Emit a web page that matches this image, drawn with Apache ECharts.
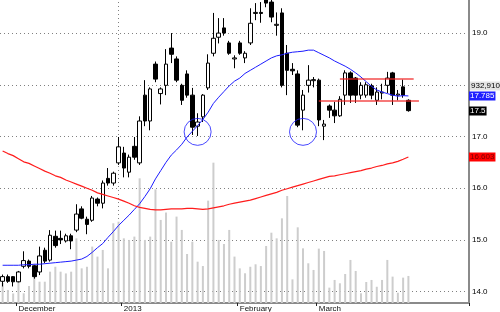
<!DOCTYPE html>
<html><head><meta charset="utf-8">
<script src="https://cdn.jsdelivr.net/npm/echarts@6/dist/echarts.min.js"></script>
<style>html,body{margin:0;padding:0;background:#fff}#c{width:500px;height:312px}</style>
</head><body><div id="c"></div>
<script>
// ---- data ----
const opens = [14.20,14.29,14.29,14.19,14.49,14.59,14.50,14.38,14.80,14.61,
  15.07,15.03,14.98,15.08,15.19,15.60,15.40,15.38,15.79,15.71,
  16.19,16.10,16.49,16.68,16.31,16.81,16.49,17.80,17.30,18.40,
  17.83,17.99,18.71,18.50,17.99,18.21,17.80,17.20,17.38,17.94,
  18.61,18.92,19.10,18.81,18.50,18.81,18.52,18.81,19.38,19.40,
  19.64,19.60,19.15,19.39,18.61,18.30,18.21,17.51,17.99,18.08,
  18.09,17.20,17.59,17.51,17.40,17.80,18.23,18.13,17.80,17.80,
  17.98,17.70,17.84,17.99,18.23,17.80,17.96,17.70];
const closes = [14.29,14.20,14.19,14.38,14.60,14.49,14.29,14.69,14.59,15.09,
  14.89,15.00,15.08,14.98,15.50,15.42,15.30,15.81,15.71,16.10,
  16.10,16.29,16.80,16.39,16.60,16.60,17.30,17.30,17.92,18.11,
  17.92,18.40,18.59,18.09,17.70,17.80,17.18,17.28,17.80,18.42,
  18.90,19.00,19.00,18.61,18.52,18.61,18.61,19.19,19.40,19.38,
  19.58,19.31,19.17,17.99,18.28,18.27,17.22,17.80,18.09,18.10,
  17.32,17.24,17.51,17.40,17.72,18.23,17.80,17.80,17.99,18.00,
  17.80,17.86,17.86,18.13,17.80,17.82,17.80,17.50];
const lows = [14.10,14.17,14.10,14.18,14.45,14.45,14.25,14.32,14.55,14.58,
  14.85,14.92,14.95,14.82,15.15,15.40,15.11,15.35,15.65,15.61,
  16.05,16.05,16.45,16.21,16.21,16.55,16.45,17.20,17.12,18.05,
  17.62,17.80,18.42,18.05,17.61,17.75,17.03,17.01,17.28,17.90,
  18.55,18.80,18.95,18.58,18.32,18.58,18.42,18.77,19.25,19.20,
  19.50,19.21,18.95,17.95,17.80,18.19,17.18,17.12,17.85,17.95,
  17.20,16.93,17.36,17.26,17.38,17.61,17.65,17.65,17.72,17.75,
  17.72,17.61,17.72,17.84,17.61,17.70,17.75,17.48];
const highs = [14.33,14.33,14.30,14.40,14.78,14.62,14.52,14.87,14.85,15.19,
  15.18,15.18,15.12,15.12,15.69,15.65,15.45,15.85,15.82,16.15,
  16.39,16.32,16.99,16.80,16.65,16.99,17.39,18.09,17.95,18.45,
  17.95,18.69,19.00,18.55,18.02,18.28,17.94,17.45,17.82,18.59,
  19.39,19.29,19.29,18.85,18.57,18.85,18.65,19.48,19.58,19.60,
  19.70,19.64,19.40,19.48,18.77,18.42,18.28,17.90,18.38,18.15,
  18.12,17.32,17.62,17.67,17.78,18.28,18.26,18.15,18.05,18.05,
  18.02,17.95,18.02,18.25,18.25,17.90,18.10,17.72];
const volumesK = [690,450,330,735,335,585,910,735,735,1080,
  1250,1080,1020,1080,2230,1195,1250,1945,1600,1830,
  1195,2750,2805,2230,2175,2290,4300,2175,2290,3920,
  2865,3120,2115,2980,2520,1690,2115,1425,1275,3530,
  4840,2175,2035,2520,1600,1195,1025,1250,1335,1275,
  1965,2425,2230,2920,3690,815,2610,1885,1370,1140,
  1875,1795,530,795,680,1000,1485,1105,335,725,
  795,560,795,1485,910,355,875,933];
const maBlue = [14.51,14.51,14.51,14.51,14.52,14.52,14.53,14.53,14.54,14.55,
  14.56,14.57,14.58,14.59,14.61,14.63,14.68,14.76,14.85,14.93,
  15.05,15.16,15.28,15.38,15.48,15.59,15.70,15.84,15.99,16.18,
  16.34,16.50,16.64,16.74,16.85,16.99,17.10,17.21,17.33,17.47,
  17.64,17.76,17.87,17.98,18.07,18.13,18.22,18.28,18.34,18.40,
  18.46,18.52,18.56,18.58,18.61,18.63,18.64,18.65,18.67,18.67,
  18.62,18.57,18.52,18.46,18.41,18.36,18.30,18.23,18.15,18.06,
  17.97,17.90,17.86,17.83,17.80,17.78,17.79,17.785];
const maRed = [16.72,16.67,16.63,16.57,16.51,16.48,16.43,16.38,16.33,16.29,
  16.24,16.21,16.16,16.12,16.08,16.04,16.00,15.96,15.91,15.88,
  15.85,15.82,15.79,15.75,15.71,15.66,15.63,15.61,15.59,15.58,
  15.58,15.59,15.60,15.60,15.60,15.61,15.61,15.60,15.59,15.60,
  15.62,15.64,15.66,15.69,15.71,15.73,15.75,15.77,15.80,15.83,
  15.86,15.89,15.92,15.96,15.99,16.02,16.05,16.08,16.11,16.14,
  16.17,16.20,16.23,16.24,16.26,16.28,16.30,16.32,16.34,16.37,
  16.39,16.42,16.44,16.47,16.49,16.52,16.56,16.603];
const slotCount = 89;
const monthTickIdx = [3, 23, 45, 60];
const monthTickText = ['December', '2013', 'February', 'March'];
const yearLineIdx = 22;
const priceTicks = [14, 15, 16, 17, 18, 19];
const hiddenPriceLabel = 18;
const priceMin = 13.78, priceMax = 19.64;
const circleIdx = [37, 57];
const circlePrice = [17.09, 17.09];
const trendFrom = [64, 60];
const trendTo = [78, 79];
const trendPrice = [18.11, 17.70];
const lastVolumeText = '932,910';

// ---- chart ----
const categories = Array.from({length: slotCount}, (_, i) => String(i));
const candles = opens.map((o, i) => [o, closes[i], lows[i], highs[i]]);
const chart = echarts.init(document.getElementById('c'), null, {renderer: 'canvas'});
const dotted = {color: '#808080', width: 1, type: [1, 3]};
const gridLineData = priceTicks.map(v => ({yAxis: v}));
gridLineData.push([{coord: [yearLineIdx, priceMin]}, {coord: [yearLineIdx, priceMax]}]);
const option = {
  animation: false,
  backgroundColor: '#fff',
  grid: {left: 0, right: 31, top: 0, bottom: 9, outerBoundsMode: 'none'},
  xAxis: {
    type: 'category', data: categories, boundaryGap: true,
    axisLine: {show: true, onZero: false, lineStyle: {color: '#8a8a8a', width: 2}},
    axisTick: {show: true, interval: (i) => monthTickIdx.includes(i), length: 3, lineStyle: {color: '#222'}},
    axisLabel: {show: true, interval: (i) => monthTickIdx.includes(i),
      formatter: (v, i) => { const k = monthTickIdx.indexOf(i); return k >= 0 ? monthTickText[k] : ''; },
      align: 'left', margin: 2, fontSize: 8, color: '#111', fontFamily: 'Arial'},
    splitLine: {show: false}
  },
  yAxis: [
    {type: 'value', position: 'right', min: priceMin, max: priceMax, scale: true,
     splitLine: {show: false},
     axisLine: {show: true, lineStyle: {color: '#8a8a8a', width: 2}},
     axisTick: {show: false},
     axisLabel: {fontSize: 8, color: '#000', margin: 3, fontFamily: 'Arial',
       showMinLabel: false, showMaxLabel: false,
       formatter: (v) => (Math.abs(v - hiddenPriceLabel) < 1e-6 || !priceTicks.some(t => Math.abs(t - v) < 1e-6)) ? '' : v.toFixed(1)}},
    {type: 'value', min: 0, max: 10450, show: false}
  ],
  series: [
    {type: 'bar', yAxisIndex: 1, data: volumesK, barWidth: 2, silent: true,
     itemStyle: {color: '#cdcdcd'}, z: 1},
    {type: 'candlestick', data: candles, barWidth: 4, silent: true, z: 3,
     itemStyle: {color: '#fff', color0: '#000', borderColor: '#000', borderColor0: '#000', borderWidth: 1},
     markLine: {silent: true, symbol: ['none', 'none'], label: {show: false}, z: 0,
       lineStyle: dotted, data: gridLineData}},
    {type: 'line', data: maBlue, showSymbol: false, silent: true, z: 4,
     lineStyle: {color: '#1c1cff', width: 1},
     markLine: {silent: true, symbol: ['none', 'none'], label: {show: false}, z: 6,
       lineStyle: {color: 'rgba(240,30,30,0.6)', width: 2, type: 'solid'},
       data: trendPrice.map((p, k) => [{coord: [trendFrom[k], p]}, {coord: [trendTo[k], p]}])}},
    {type: 'line', data: maRed, showSymbol: false, silent: true, z: 4,
     lineStyle: {color: '#ff1c1c', width: 1.2}},
    {type: 'scatter', data: circleIdx.map((x, k) => [x, circlePrice[k]]), symbol: 'circle', symbolSize: 27,
     silent: true, z: 5, itemStyle: {color: 'rgba(0,0,0,0)', borderColor: '#1c1cff', borderWidth: 1}}
  ]
};
chart.setOption(option);

const last = closes.length - 1;
const yPx = (v) => chart.convertToPixel({yAxisIndex: 0}, v);
const xRight = 469;
const tags = [
  {text: maBlue[last].toFixed(3), y: yPx(maBlue[last]), bg: '#1f1fff', fg: '#fff', x: xRight},
  {text: lastVolumeText, y: yPx(maBlue[last]) - 9.5, bg: '#e4e4e4', fg: '#000', x: xRight + 1},
  {text: String(closes[last]), y: yPx(closes[last]), bg: '#000', fg: '#fff', x: xRight},
  {text: maRed[last].toFixed(3), y: yPx(maRed[last]), bg: '#ff0000', fg: '#7a0000', x: xRight}
];
chart.setOption({graphic: tags.map(t => ({
  type: 'text', x: t.x, y: Math.round(t.y), z: 100, silent: true,
  style: {text: t.text, fill: t.fg, backgroundColor: t.bg, font: '8px Arial',
    verticalAlign: 'middle', align: 'left', padding: [1, 1, 0, 1]}
}))});
</script></body></html>
